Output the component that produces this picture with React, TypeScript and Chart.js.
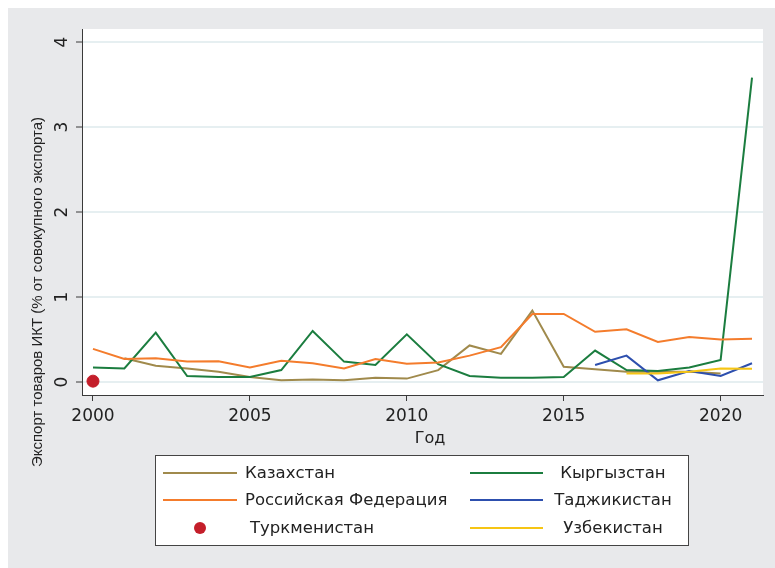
import React, { useEffect, useRef } from "react";
import { Chart, registerables } from "chart.js";
Chart.register(...registerables);

const years = [2000, 2001, 2002, 2003, 2004, 2005, 2006, 2007, 2008, 2009, 2010, 2011, 2012, 2013, 2014, 2015, 2016, 2017, 2018, 2019, 2020, 2021];
const kazakhstan = [null, 0.28, 0.19, 0.16, 0.12, 0.06, 0.02, 0.03, 0.02, 0.05, 0.04, 0.14, 0.43, 0.33, 0.84, 0.18, 0.15, 0.12, 0.12, 0.12, 0.10, null];
const kyrgyzstan = [0.17, 0.16, 0.58, 0.07, 0.06, 0.06, 0.14, 0.60, 0.24, 0.20, 0.56, 0.21, 0.07, 0.05, 0.05, 0.06, 0.37, 0.14, 0.13, 0.17, 0.26, 3.58];
const russia = [0.39, 0.27, 0.28, 0.24, 0.245, 0.17, 0.25, 0.22, 0.16, 0.27, 0.215, 0.23, 0.31, 0.41, 0.80, 0.80, 0.59, 0.62, 0.47, 0.53, 0.50, 0.51];
const tajikistan = [null, null, null, null, null, null, null, null, null, null, null, null, null, null, null, null, 0.20, 0.31, 0.02, 0.13, 0.07, 0.22];
const turkmenistan = [0.01, null, null, null, null, null, null, null, null, null, null, null, null, null, null, null, null, null, null, null, null, null];
const uzbekistan = [null, null, null, null, null, null, null, null, null, null, null, null, null, null, null, null, null, 0.10, 0.10, 0.12, 0.16, 0.155];

const xTicks = [2000, 2005, 2010, 2015, 2020];
const yTicks = [0, 1, 2, 3, 4];

const names = {
  kaz: "Казахстан",
  kyr: "Кыргызстан",
  rus: "Российская Федерация",
  taj: "Таджикистан",
  tkm: "Туркменистан",
  uzb: "Узбекистан",
};
const colors = {
  kaz: "#a08a4c",
  kyr: "#1b7d3f",
  rus: "#f47c2c",
  taj: "#2d4fae",
  tkm: "#c41e2a",
  uzb: "#f6c514",
};
const xTitle = "Год";
const yTitle = "Экспорт товаров ИКТ (% от совокупного экспорта)";

const W = 767;
const H = 560;
const BG = "#e8e9eb";
const AXIS = "#3a3a3a";
const TICK_FONT = '17px "DejaVu Sans"';
const LEGEND_FONT = '16.5px "DejaVu Sans"';

const pts = (vals: (number | null)[]) => years.map((x, i) => ({ x, y: vals[i] }));

const customDraw = {
  id: "customDraw",
  beforeDraw(chart: any) {
    const { ctx, chartArea } = chart;
    ctx.save();
    ctx.fillStyle = BG;
    ctx.fillRect(0, 0, chart.width, chart.height);
    ctx.fillStyle = "#ffffff";
    ctx.fillRect(chartArea.left, chartArea.top, chartArea.right - chartArea.left, chartArea.bottom - chartArea.top);
    ctx.restore();
  },
  afterDraw(chart: any) {
    const { ctx } = chart;
    const ys = chart.scales.y;
    ctx.save();
    // y tick labels, rotated
    ctx.fillStyle = "#222";
    ctx.font = TICK_FONT;
    ctx.textAlign = "center";
    ctx.textBaseline = "middle";
    yTicks.forEach((v) => {
      const py = ys.getPixelForValue(v);
      ctx.save();
      ctx.translate(55, py);
      ctx.rotate(-Math.PI / 2);
      ctx.fillText(String(v), 0, 0);
      ctx.restore();
    });
    // y title
    ctx.save();
    ctx.font = '15px "Liberation Sans"';
    ctx.translate(30, 284);
    ctx.rotate(-Math.PI / 2);
    ctx.fillText(yTitle, 0, 0);
    ctx.restore();
    // x title
    ctx.font = '16px "DejaVu Sans"';
    ctx.fillText(xTitle, 422, 431);

    // legend
    const bx = 147, by = 447, bw = 533, bh = 90;
    ctx.fillStyle = "#ffffff";
    ctx.fillRect(bx, by, bw, bh);
    ctx.strokeStyle = "#444";
    ctx.lineWidth = 1;
    ctx.strokeRect(bx + 0.5, by + 0.5, bw, bh);
    const rows = [465, 492, 520];
    const col1: [keyof typeof colors, boolean][] = [["kaz", true], ["rus", true], ["tkm", false]];
    const col2: (keyof typeof colors)[] = ["kyr", "taj", "uzb"];
    ctx.font = LEGEND_FONT;
    col1.forEach(([k, isLine], i) => {
      const y = rows[i];
      if (isLine) {
        ctx.strokeStyle = colors[k];
        ctx.lineWidth = 2;
        ctx.beginPath();
        ctx.moveTo(155, y);
        ctx.lineTo(229, y);
        ctx.stroke();
      } else {
        ctx.fillStyle = colors[k];
        ctx.beginPath();
        ctx.arc(192, y, 6, 0, Math.PI * 2);
        ctx.fill();
      }
      ctx.fillStyle = "#222";
      ctx.textAlign = "left";
      ctx.fillText(names[k], isLine ? 237 : 242, y + 1);
    });
    col2.forEach((k, i) => {
      const y = rows[i];
      ctx.strokeStyle = colors[k];
      ctx.lineWidth = 2;
      ctx.beginPath();
      ctx.moveTo(462, y);
      ctx.lineTo(535, y);
      ctx.stroke();
      ctx.fillStyle = "#222";
      ctx.textAlign = "center";
      ctx.fillText(names[k], 605, y + 1);
    });
    ctx.restore();
  },
};

export default function App() {
  const ref = useRef<HTMLCanvasElement>(null);
  useEffect(() => {
    if (!ref.current) return;
    const lineDs = (k: keyof typeof colors, vals: (number | null)[], order: number) => ({
      label: names[k],
      data: pts(vals),
      borderColor: colors[k],
      backgroundColor: colors[k],
      borderWidth: 2,
      pointRadius: 0,
      pointHoverRadius: 0,
      tension: 0,
      spanGaps: false,
      order,
    });
    const chart = new Chart(ref.current, {
      type: "line",
      data: {
        datasets: [
          lineDs("kaz", kazakhstan, 6),
          lineDs("kyr", kyrgyzstan, 5),
          lineDs("rus", russia, 4),
          lineDs("taj", tajikistan, 3),
          {
            label: names.tkm,
            data: pts(turkmenistan),
            showLine: false,
            pointRadius: 6,
            pointBackgroundColor: colors.tkm,
            pointBorderColor: colors.tkm,
            borderColor: colors.tkm,
            backgroundColor: colors.tkm,
            order: 2,
          },
          lineDs("uzb", uzbekistan, 1),
        ] as any,
      },
      options: {
        animation: false,
        responsive: false,
        maintainAspectRatio: false,
        layout: { padding: { left: 0, right: 12, top: 21, bottom: 0 } },
        plugins: { legend: { display: false }, tooltip: { enabled: false } },
        scales: {
          x: {
            type: "linear",
            min: 1999.65,
            max: 2021.35,
            afterBuildTicks: (s: any) => {
              s.ticks = xTicks.map((v) => ({ value: v }));
            },
            afterFit: (s: any) => {
              s.height = 173;
            },
            grid: { drawOnChartArea: false, drawTicks: true, tickLength: 6, tickColor: AXIS, tickWidth: 1 },
            border: { color: AXIS, width: 1 },
            ticks: {
              font: { family: "DejaVu Sans", size: 17 },
              color: "#222",
              padding: 5,
              maxRotation: 0,
              minRotation: 0,
              callback: (v: any) => String(v),
            },
          },
          y: {
            type: "linear",
            min: -0.153,
            max: 4.153,
            afterBuildTicks: (s: any) => {
              s.ticks = yTicks.map((v) => ({ value: v }));
            },
            afterFit: (s: any) => {
              s.width = 74;
            },
            grid: { color: "#e6eff1", lineWidth: 2, drawTicks: true, tickLength: 6, tickColor: AXIS, tickWidth: 1 },
            border: { color: AXIS, width: 1 },
            ticks: { display: false },
          },
        },
      } as any,
      plugins: [customDraw],
    });
    return () => chart.destroy();
  }, []);
  return (
    <div style={{ position: "fixed", left: 8, top: 8, width: W, height: H }}>
      <canvas ref={ref} width={W} height={H} style={{ width: W, height: H, display: "block" }} />
    </div>
  );
}
